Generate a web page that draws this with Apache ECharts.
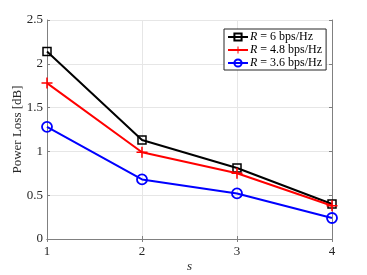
<!DOCTYPE html>
<html><head><meta charset="utf-8">
<script src="https://cdn.jsdelivr.net/npm/echarts@6/dist/echarts.min.js"></script>
<style>html,body{margin:0;padding:0;background:#fff}#c{width:367px;height:275px}</style>
</head><body><div id="c"></div>
<script>
const sValues = [1, 2, 3, 4];
const lossR6 = [2.14, 1.13, 0.81, 0.40];
const lossR48 = [1.78, 0.99, 0.75, 0.38];
const lossR36 = [1.28, 0.68, 0.52, 0.24];
const seriesNames = ['R = 6 bps/Hz', 'R = 4.8 bps/Hz', 'R = 3.6 bps/Hz'];
const xTicks = [1, 2, 3, 4];
const yTicks = [0, 0.5, 1, 1.5, 2, 2.5];

const FONT = 'Liberation Serif';
const plusPath = 'path://M4.3,0 L5.7,0 L5.7,4.3 L10,4.3 L10,5.7 L5.7,5.7 L5.7,10 L4.3,10 L4.3,5.7 L0,5.7 L0,4.3 L4.3,4.3 Z';
const pair = (xs, ys) => xs.map((x, i) => [x, ys[i]]);

const chart = echarts.init(document.getElementById('c'));
const axisColor = '#808080';
const gridLine = {show: true, lineStyle: {color: '#e6e6e6', width: 1}};
chart.setOption({
  animation: false,
  grid: {left: 47, right: 35, top: 20, bottom: 36, containLabel: false, outerBoundsMode: 'none'},
  xAxis: [{
    type: 'value', min: 1, max: 4, interval: 1,
    name: 's', nameLocation: 'middle', nameGap: 21, nameMoveOverlap: false,
    nameTextStyle: {fontFamily: FONT, fontStyle: 'italic', fontSize: 13, color: '#262626'},
    axisLine: {show: true, onZero: false, lineStyle: {color: axisColor, width: 1}},
    axisTick: {show: true, inside: true, length: 3, lineStyle: {color: axisColor}},
    axisLabel: {fontFamily: FONT, fontSize: 13, color: '#262626', margin: 6,
      formatter: v => xTicks.includes(v) ? String(v) : ''},
    splitLine: gridLine
  }, {
    type: 'value', min: 1, max: 4, interval: 1, position: 'top',
    axisLine: {show: true, lineStyle: {color: axisColor, width: 1}},
    axisTick: {show: true, inside: true, length: 3, lineStyle: {color: axisColor}},
    axisLabel: {show: false}, splitLine: {show: false}
  }],
  yAxis: [{
    type: 'value', min: 0, max: 2.5, interval: 0.5,
    name: 'Power Loss [dB]', nameLocation: 'middle', nameGap: 23, nameMoveOverlap: false,
    nameTextStyle: {fontFamily: FONT, fontSize: 13, color: '#262626'},
    axisLine: {show: true, onZero: false, lineStyle: {color: axisColor, width: 1}},
    axisTick: {show: true, inside: true, length: 3, lineStyle: {color: axisColor}},
    axisLabel: {fontFamily: FONT, fontSize: 13, color: '#262626', margin: 4,
      formatter: v => yTicks.includes(v) ? String(v) : ''},
    splitLine: gridLine
  }, {
    type: 'value', min: 0, max: 2.5, interval: 0.5, position: 'right',
    axisLine: {show: true, lineStyle: {color: axisColor, width: 1}},
    axisTick: {show: true, inside: true, length: 3, lineStyle: {color: axisColor}},
    axisLabel: {show: false}, splitLine: {show: false}
  }],
  legend: {
    left: 224, top: 29, orient: 'vertical',
    itemWidth: 20, itemHeight: 9, itemGap: 1,
    padding: [2, 4, 1, 3],
    borderColor: '#262626', borderWidth: 1, backgroundColor: '#fff',
    textStyle: {fontFamily: FONT, fontSize: 12, lineHeight: 12, color: '#000', padding: [0, 0, 0, -3],
      rich: {it: {fontFamily: FONT, fontStyle: 'italic', fontSize: 12, lineHeight: 12, color: '#000'},
             n: {fontFamily: FONT, fontSize: 12, lineHeight: 12, color: '#000'}}},
    formatter: name => '{it|R}{n|' + name.slice(1) + '}',
    data: seriesNames
  },
  series: [{
    name: seriesNames[0], type: 'line', data: pair(sValues, lossR6),
    color: '#000', lineStyle: {width: 2, color: '#000'},
    symbol: 'rect', symbolSize: 8,
    itemStyle: {color: 'transparent', borderColor: '#000', borderWidth: 1.5}, z: 3
  }, {
    name: seriesNames[1], type: 'line', data: pair(sValues, lossR48),
    color: '#ff0000', lineStyle: {width: 2, color: '#ff0000'},
    symbol: plusPath, symbolSize: 11,
    itemStyle: {color: '#ff0000', borderWidth: 0}, z: 4
  }, {
    name: seriesNames[2], type: 'line', data: pair(sValues, lossR36),
    color: '#0000ff', lineStyle: {width: 2, color: '#0000ff'},
    symbol: 'circle', symbolSize: 10,
    itemStyle: {color: 'transparent', borderColor: '#0000ff', borderWidth: 1.8}, z: 2
  }]
});
</script></body></html>
